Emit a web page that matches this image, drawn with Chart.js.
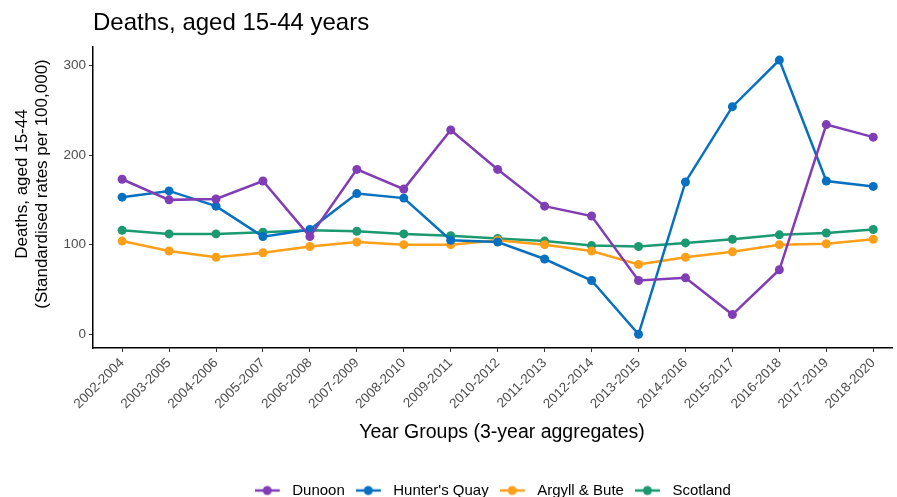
<!DOCTYPE html>
<html>
<head>
<meta charset="utf-8">
<script src="https://cdn.jsdelivr.net/npm/chart.js@4.4.0/dist/chart.umd.min.js"></script>
<style>
  html, body { margin: 0; padding: 0; background: #fff; }
  #wrap { width: 897px; height: 497px; }
</style>
</head>
<body>
<div id="wrap"><canvas id="grafico"></canvas></div>
<script>
// Datos
const yearGroups = ['2002-2004', '2003-2005', '2004-2006', '2005-2007', '2006-2008', '2007-2009',
  '2008-2010', '2009-2011', '2010-2012', '2011-2013', '2012-2014', '2013-2015', '2014-2016',
  '2015-2017', '2016-2018', '2017-2019', '2018-2020'];
const dunoon = [173, 150, 151, 171, 109, 184, 162, 228, 184, 143, 132, 60, 63, 22, 72, 234, 220];
const huntersQuay = [153, 160, 143, 109, 117, 157, 152, 105, 103, 84, 60, 0, 170, 254, 306, 171, 165];
const argyllBute = [104, 93, 86, 91, 98, 103, 100, 100, 105, 100, 93, 78, 86, 92, 100, 101, 106];
const scotland = [116, 112, 112, 114, 116, 115, 112, 110, 107, 104, 99, 98, 102, 106, 111, 113, 117];
const yTicks = [0, 100, 200, 300];
const tituloY = ['Deaths, aged 15-44', '(Standardised rates per 100,000)'];
const tituloX = 'Year Groups (3-year aggregates)';

const series = [
  { label: 'Dunoon', data: dunoon, color: '#803db6' },
  { label: "Hunter's Quay", data: huntersQuay, color: '#0770c0' },
  { label: 'Argyll & Bute', data: argyllBute, color: '#fe9f1a' },
  { label: 'Scotland', data: scotland, color: '#1b9970' }
];

const fuente = "'Liberation Sans', Arial, sans-serif";

// Icono de leyenda: linea con punto (con margen a la derecha)
function iconoLeyenda(color) {
  const c = document.createElement('canvas');
  c.width = 30; c.height = 12;
  const ctx = c.getContext('2d');
  ctx.strokeStyle = color;
  ctx.lineWidth = 2.5;
  ctx.beginPath();
  ctx.moveTo(0, 6); ctx.lineTo(25, 6);
  ctx.stroke();
  ctx.fillStyle = color;
  ctx.beginPath();
  ctx.arc(12.5, 6, 4.5, 0, Math.PI * 2);
  ctx.fill();
  return c;
}

// Titulos de los ejes dibujados a mano (como en el original, algo descentrados)
const titulosEjes = {
  id: 'titulosEjes',
  afterDraw(chart) {
    const ctx = chart.ctx;
    ctx.save();
    ctx.fillStyle = '#000';
    ctx.textAlign = 'center';
    ctx.textBaseline = 'middle';
    ctx.font = '19.5px ' + fuente;
    ctx.fillText(tituloX, 502, 433);
    ctx.translate(0, 184);
    ctx.rotate(-Math.PI / 2);
    ctx.font = '17px ' + fuente;
    tituloY.forEach((t, i) => ctx.fillText(t, 0, 22 + i * 20));
    ctx.restore();
  }
};

const datasets = series.map(s => ({
  label: s.label,
  data: s.data.map((v, i) => ({ x: i, y: v })),
  borderColor: s.color,
  backgroundColor: s.color,
  borderWidth: 2.5,
  pointRadius: 4.5,
  pointHoverRadius: 4.5,
  pointBorderWidth: 0,
  tension: 0
}));

new Chart(document.getElementById('grafico'), {
  type: 'line',
  data: { datasets: datasets },
  plugins: [titulosEjes],
  options: {
    responsive: true,
    maintainAspectRatio: false,
    animation: false,
    layout: { padding: { left: 0, right: 2, top: 0, bottom: -11 } },
    plugins: {
      tooltip: { enabled: false },
      title: {
        display: true,
        text: 'Deaths, aged 15-44 years',
        align: 'start',
        fullSize: false,
        color: '#000',
        font: { family: fuente, size: 24, weight: 'normal' },
        padding: { top: 8.9, bottom: 9.3 }
      },
      legend: {
        position: 'bottom',
        fullSize: false,
        labels: {
          color: '#000',
          font: { family: fuente, size: 15 },
          usePointStyle: true,
          pointStyleWidth: 30,
          boxHeight: 12,
          padding: 11,
          generateLabels: (chart) => {
            const items = Chart.defaults.plugins.legend.labels.generateLabels(chart);
            items.forEach((it, i) => { it.pointStyle = iconoLeyenda(series[i].color); });
            return items;
          }
        }
      }
    },
    scales: {
      x: {
        type: 'linear',
        min: -0.62,
        max: 16.41,
        afterBuildTicks: (scale) => { scale.ticks = yearGroups.map((g, i) => ({ value: i })); },
        afterFit: (scale) => { scale.height = 124; },
        ticks: {
          autoSkip: false,
          maxRotation: 45,
          minRotation: 45,
          color: '#4d4d4d',
          font: { family: fuente, size: 13.5 },
          padding: 3,
          callback: (v) => yearGroups[v]
        },
        grid: { display: true, drawOnChartArea: false, drawTicks: true, tickLength: 4, color: '#333' },
        border: { display: true, color: '#000', width: 1.5 },
        title: { display: false }
      },
      y: {
        min: -15.3,
        max: 320.6,
        afterBuildTicks: (scale) => { scale.ticks = yTicks.map(v => ({ value: v })); },
        afterFit: (scale) => { scale.width = 93; },
        ticks: {
          color: '#4d4d4d',
          font: { family: fuente, size: 13.5 },
          padding: 3
        },
        grid: { display: true, drawOnChartArea: false, drawTicks: true, tickLength: 4, color: '#333' },
        border: { display: true, color: '#000', width: 1.5 },
        title: { display: false }
      }
    }
  }
});
</script>
</body>
</html>
